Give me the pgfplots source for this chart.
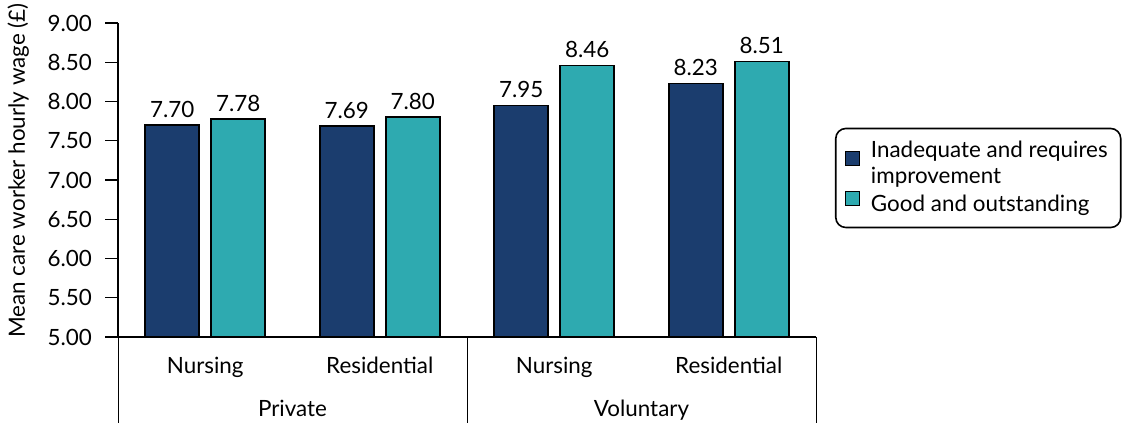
\documentclass[border=0pt]{standalone}
\usepackage{fontspec}
\setmainfont{Lato}
\usepackage{pgfplots}
\pgfplotsset{compat=1.18}
\definecolor{navy}{HTML}{1B3D6E}
\definecolor{tealbar}{HTML}{2EAAB0}
\newcommand{\chartfont}{\fontsize{11.2}{13}\selectfont}
\pgfplotsset{swatch legend/.style={legend image code/.code={%
    \draw[##1, draw=black, line width=0.6pt, sharp corners] (0pt,-0.5pt) rectangle (7pt,6.5pt);}}}

\begin{document}
\begin{tikzpicture}
\useasboundingbox (0,0) rectangle (563pt,211.5pt);
\begin{axis}[
    at={(59pt,43pt)}, anchor=south west,
    scale only axis, width=349pt, height=157pt,
    ybar=6pt, bar width=27pt,
    xmin=-0.5, xmax=3.5, ymin=5, ymax=9,
    clip=false,
    font=\chartfont,
    /pgf/number format/assume math mode=true,
    axis x line*=bottom, axis y line*=left,
    axis line style={-, black, line width=0.7pt},
    tick align=outside, major tick length=6.5pt,
    ytick={5,5.5,...,9},
    yticklabel style={xshift=-3pt, /pgf/number format/.cd, fixed, fixed zerofill, precision=2},
    ytick style={black, line width=0.7pt},
    xtick={0,1,2,3},
    xticklabels={Nursing,Residential,Nursing,Residential},
    xtick style={draw=none},
    extra x ticks={0.5,2.5},
    extra x tick labels={Private,Voluntary},
    extra x tick style={tick label style={yshift=-21.5pt}},
    every axis y label/.style={at={(rel axis cs:-0.143,0.53)}, rotate=90, anchor=center},
    ylabel={Mean care worker hourly wage (£)},
    nodes near coords,
    nodes near coords style={font=\chartfont, black,
        /pgf/number format/.cd, fixed, fixed zerofill, precision=2},
    legend style={at={(1.0272,0.5064)}, anchor=west, draw=black, line width=0.8pt,
        rounded corners=5pt, font=\chartfont, cells={anchor=west, align=left},
        column sep=3.5pt, inner xsep=4.5pt, inner ysep=4.5pt},
]
\addplot[fill=navy, draw=black, line width=0.8pt, swatch legend]
    coordinates {(0,7.70) (1,7.69) (2,7.95) (3,8.23)};
\addlegendentry{Inadequate and requires\\improvement}
\addplot[fill=tealbar, draw=black, line width=0.8pt, swatch legend]
    coordinates {(0,7.78) (1,7.80) (2,8.46) (3,8.51)};
\addlegendentry{Good and outstanding}
\draw[black, line width=0.5pt] (axis cs:-0.5,5) -- ++(0pt,-43pt);
\draw[black, line width=0.5pt] (axis cs:1.5,5) -- ++(0pt,-43pt);
\draw[black, line width=0.5pt] (axis cs:3.5,5) -- ++(0pt,-43pt);
\end{axis}
\end{tikzpicture}
\end{document}
